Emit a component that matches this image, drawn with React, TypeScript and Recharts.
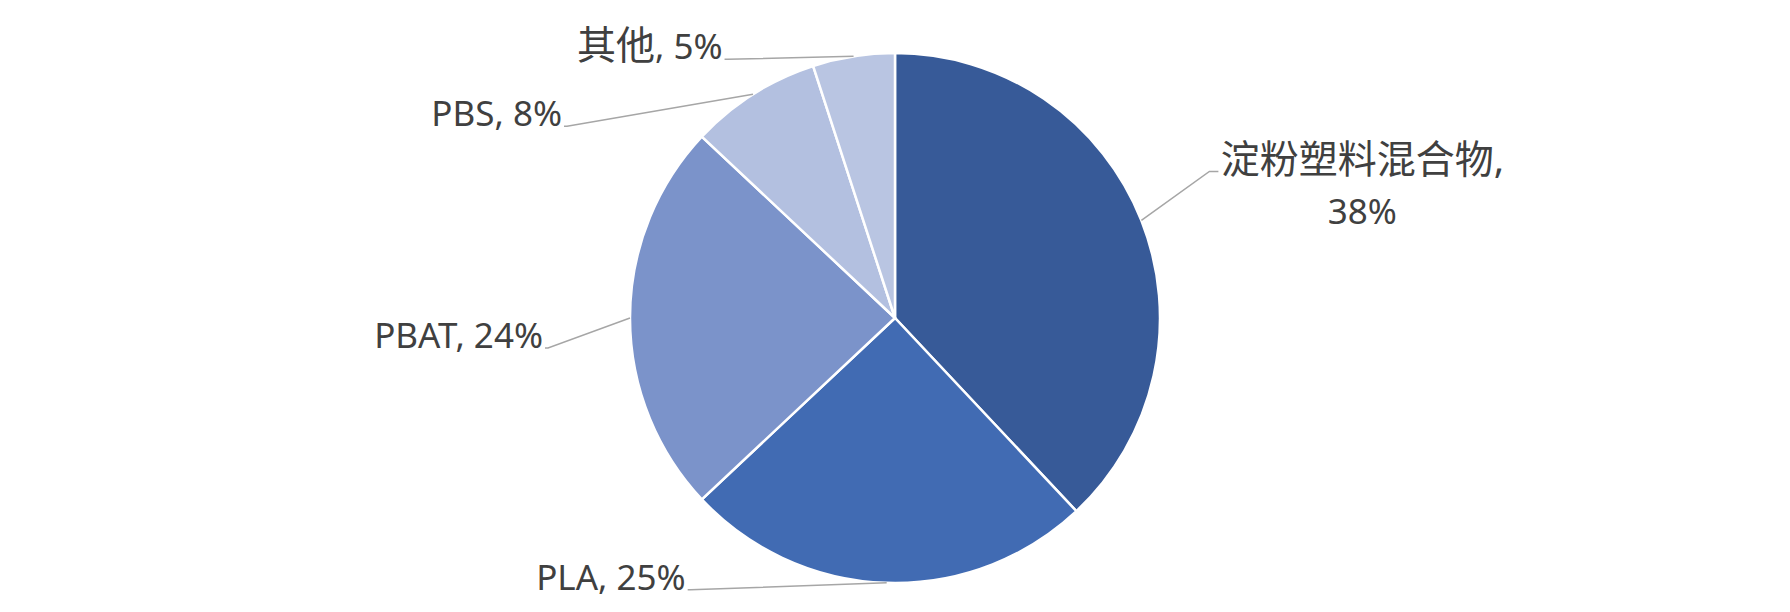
import { PieChart, Pie, Cell } from 'recharts';

const categories = ['淀粉塑料混合物', 'PLA', 'PBAT', 'PBS', '其他'];
const shares = [38, 25, 24, 8, 5];

const COLORS = ['#375A98', '#416BB3', '#7B93CA', '#B3C0E0', '#B9C5E2'];

// where each label sits, measured from the point where its leader leaves the pie
const LABEL_OFFSETS = [
    { dx: 68, dy: -49, side: 'right', wrap: true },
    { dx: -196, dy: 7, side: 'left', wrap: false },
    { dx: -82, dy: 30, side: 'left', wrap: false },
    { dx: -186, dy: 32, side: 'left', wrap: false },
    { dx: -126, dy: 3, side: 'left', wrap: false },
];

const RADIAN = Math.PI / 180;
const TEXT_COLOR = '#404040';
const LINE_COLOR = '#A6A6A6';

const data = categories.map((name, i) => ({ name, value: shares[i] }));

const isCjk = (s: string) => /[\u4e00-\u9fff]/.test(s);

function renderLabel(props: any) {
    const { cx, cy, midAngle, outerRadius, index, name, value } = props;
    const layout = LABEL_OFFSETS[index];

    // point on the rim
    const sx = cx + outerRadius * Math.cos(-midAngle * RADIAN);
    const sy = cy + outerRadius * Math.sin(-midAngle * RADIAN);
    const ex = sx + layout.dx;
    const ey = sy + layout.dy;
    const nameSize = isCjk(name) ? 39 : 35;

    if (layout.side === 'right') {
        const tx = ex + 9;
        return (
            <g>
                <polyline points={`${sx},${sy} ${ex},${ey} ${tx},${ey}`} fill="none" stroke={LINE_COLOR} strokeWidth={1.5} />
                <text x={tx + 144} y={ey + 2} textAnchor="middle" fill={TEXT_COLOR} fontSize={35}>
                    <tspan fontSize={nameSize}>{name},</tspan>
                </text>
                <text x={tx + 144} y={ey + 53} textAnchor="middle" fill={TEXT_COLOR} fontSize={35}>
                    {value}%
                </text>
            </g>
        );
    }

    return (
        <g>
            <polyline points={`${sx},${sy} ${ex},${ey} ${ex - 3},${ey}`} fill="none" stroke={LINE_COLOR} strokeWidth={1.5} />
            <text x={ex - 5} y={ey} textAnchor="end" fill={TEXT_COLOR} fontSize={35}>
                <tspan fontSize={nameSize}>{name}</tspan>
                <tspan>, {value}%</tspan>
            </text>
        </g>
    );
}

export default function App() {
    return (
        <div style={{ width: 1790, height: 612, background: '#fff', fontFamily: '"Noto Sans", "Noto Sans CJK SC", sans-serif' }}>
            <style>{`body { margin: 0; }`}</style>
            <PieChart width={1790} height={612} margin={{ top: 0, right: 0, bottom: 0, left: 0 }}>
                <Pie
                    data={data}
                    dataKey="value"
                    nameKey="name"
                    cx={895}
                    cy={318}
                    outerRadius={265}
                    startAngle={90}
                    endAngle={-270}
                    stroke="#FFFFFF"
                    strokeWidth={2.5}
                    label={renderLabel}
                    labelLine={false}
                    isAnimationActive={false}
                >
                    {data.map((entry, index) => (
                        <Cell key={`cell-${index}`} fill={COLORS[index % COLORS.length]} />
                    ))}
                </Pie>
            </PieChart>
        </div>
    );
}
